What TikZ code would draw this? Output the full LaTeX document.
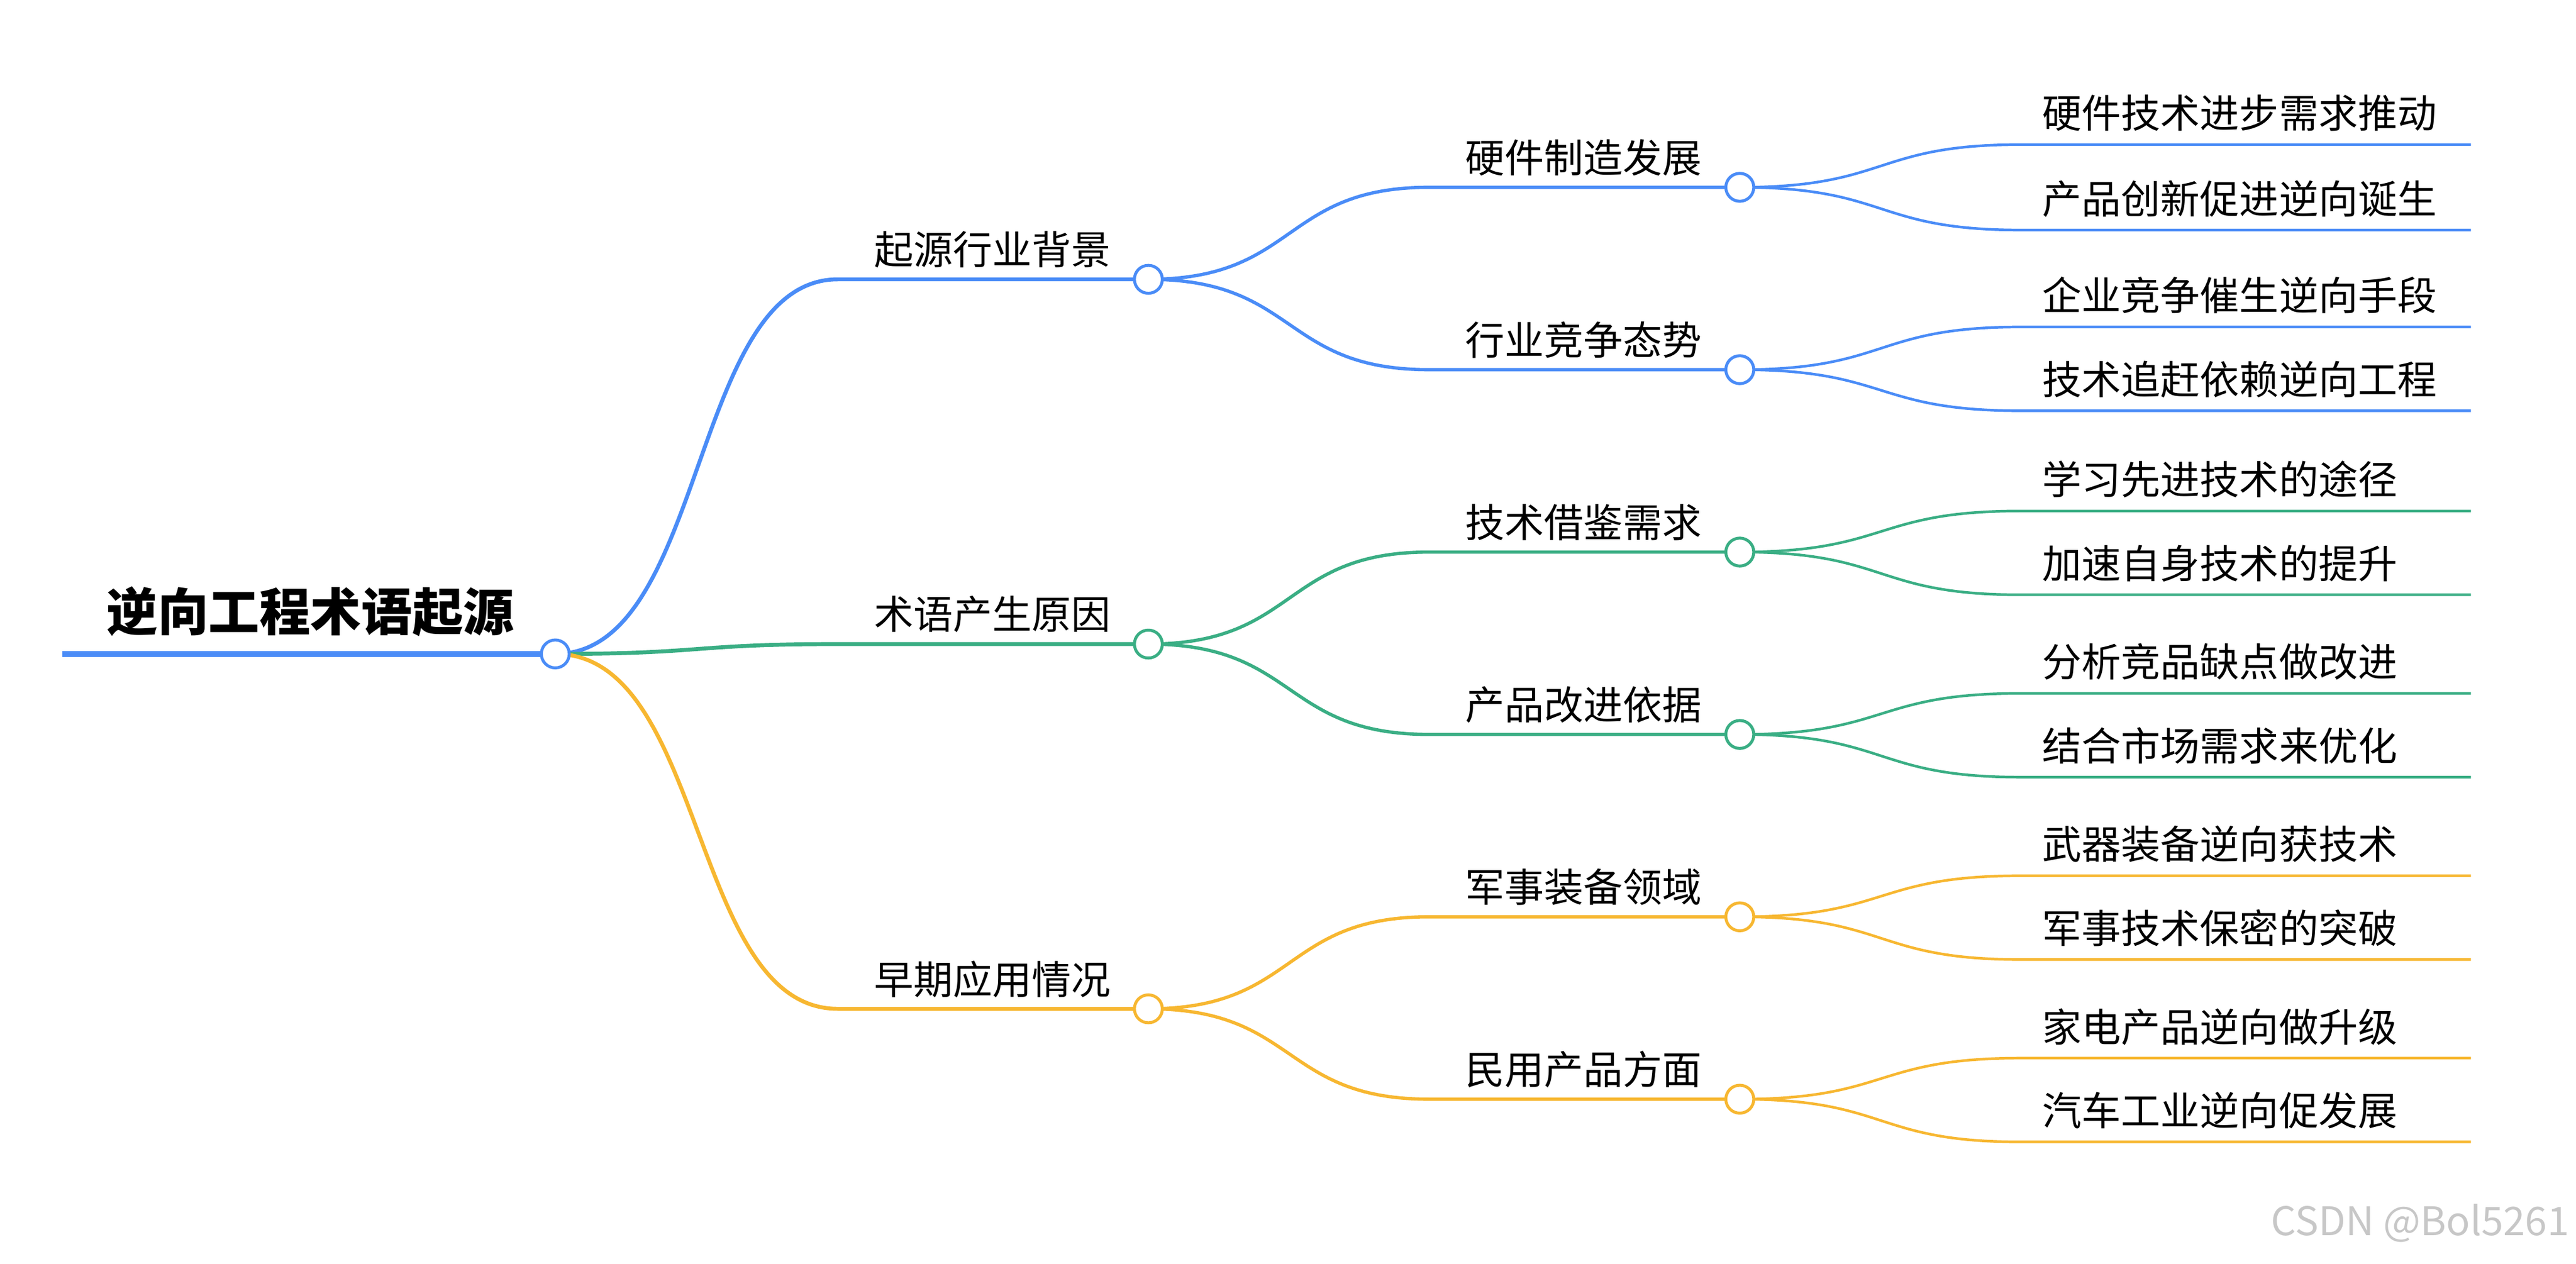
\documentclass[tikz,border=0pt]{standalone}
\usepackage{fontspec}
\setmainfont{Noto Sans CJK SC}
\newfontfamily\cjkb[BoldFont={Noto Sans CJK SC Bold}]{Noto Sans CJK SC}
\definecolor{cb}{HTML}{4A8CF7}
\definecolor{cg}{HTML}{3AAE84}
\definecolor{cy}{HTML}{F7B731}
\tikzset{
  dot/.style={circle,draw=#1,fill=white,line width=1.8pt,minimum size=17pt,inner sep=0pt},
  ln/.style={draw=#1,line width=2.4pt},
  lbl/.style={anchor=base,font=\fontsize{24}{24}\selectfont,inner sep=0pt},
  leaf/.style={anchor=base west,font=\fontsize{24}{24}\selectfont,inner sep=0pt}
}
\begin{document}
\begin{tikzpicture}[x=1pt,y=-1pt]
\useasboundingbox (0,0) rectangle (1568,769);
% root
\node[anchor=base,font=\fontsize{31}{31}\selectfont\bfseries,inner sep=0pt] (root) at (189,384) {逆向工程术语起源};
\coordinate (r0) at (38,398);
\coordinate (r1) at (338,398);
\draw[ln=cb,line width=3.5pt] (r0) -- (r1);
\foreach \col/\y/\t/\ya/\ta/\yb/\tb [count=\i] in {
 cb/170/起源行业背景/114/硬件制造发展/225/行业竞争态势,
 cg/392/术语产生原因/336/技术借鉴需求/447/产品改进依据,
 cy/614/早期应用情况/558/军事装备领域/669/民用产品方面}{
  \coordinate (b\i) at (510,\y);
  \draw[ln=\col] (r1) .. controls (430,398) and (420,\y) .. (b\i) -- (699,\y);
  \node[lbl] (l\i) at (604,\y-9) {\t};
  \foreach \yy/\tt [count=\j] in {\ya/\ta,\yb/\tb}{
    \coordinate (c\i\j) at (870,\yy);
    \draw[ln=\col,line width=2pt] (699,\y) .. controls (790,\y) and (780,\yy) .. (c\i\j) -- (1059,\yy);
    \node[lbl] (m\i\j) at (964,\yy-9) {\tt};
  }
}
% leaves
\foreach \col/\yc/\ya/\ta/\yb/\tb [count=\k] in {
 cb/114/88/硬件技术进步需求推动/140/产品创新促进逆向诞生,
 cb/225/199/企业竞争催生逆向手段/250/技术追赶依赖逆向工程,
 cg/336/311/学习先进技术的途径/362/加速自身技术的提升,
 cg/447/422/分析竞品缺点做改进/473/结合市场需求来优化,
 cy/558/533/武器装备逆向获技术/584/军事技术保密的突破,
 cy/669/644/家电产品逆向做升级/695/汽车工业逆向促发展}{
  \coordinate (p\k) at (1059,\yc);
  \foreach \yy/\tt [count=\j] in {\ya/\ta,\yb/\tb}{
    \coordinate (q\k\j) at (1230,\yy);
    \draw[ln=\col,line width=1.6pt] (p\k) .. controls (1150,\yc) and (1140,\yy) .. (q\k\j) -- (1504,\yy);
    \node[leaf] (t\k\j) at (1243,\yy-10) {\tt};
  }
}
% dots
\node[dot=cb] (n0) at (r1) {};
\node[dot=cb] (n1) at (699,170) {};
\node[dot=cg] (n2) at (699,392) {};
\node[dot=cy] (n3) at (699,614) {};
\node[dot=cb] at (p1) {};
\node[dot=cb] at (p2) {};
\node[dot=cg] at (p3) {};
\node[dot=cg] at (p4) {};
\node[dot=cy] at (p5) {};
\node[dot=cy] at (p6) {};
\node[anchor=base east,text=black!22,font=\fontsize{24}{24}\selectfont,inner sep=0pt] (wm) at (1564,752) {CSDN @Bol5261};
\end{tikzpicture}
\end{document}
